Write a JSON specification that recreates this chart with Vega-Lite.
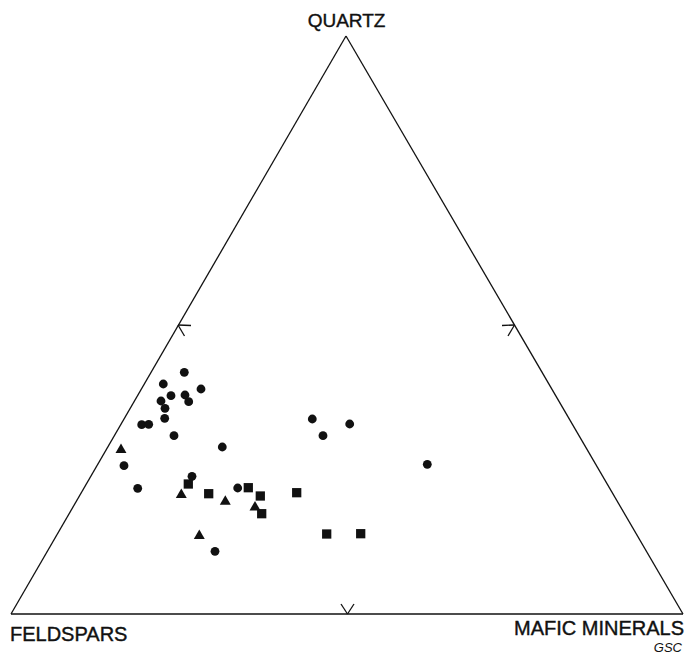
{
  "$schema": "https://vega.github.io/schema/vega-lite/v6.json",
  "width": 695,
  "height": 655,
  "padding": 0,
  "autosize": {"type": "fit", "contains": "padding"},
  "background": "white",
  "config": {"view": {"stroke": null}},
  "datasets": {
    "segments": [
      {"part": "edge", "x": 346, "y": 619, "x2": 11, "y2": 41},
      {"part": "edge", "x": 346, "y": 619, "x2": 683, "y2": 41},
      {"part": "edge", "x": 11, "y": 41, "x2": 683, "y2": 41},
      {"part": "tick", "x": 178, "y": 330, "x2": 191, "y2": 329.5},
      {"part": "tick", "x": 178, "y": 330, "x2": 184.5, "y2": 319},
      {"part": "tick", "x": 514.5, "y": 330, "x2": 502, "y2": 329.5},
      {"part": "tick", "x": 514.5, "y": 330, "x2": 508, "y2": 319},
      {"part": "tick", "x": 347.5, "y": 41, "x2": 341, "y2": 51},
      {"part": "tick", "x": 347.5, "y": 41, "x2": 354, "y2": 51}
    ],
    "samples": [
      {"type": "circle", "x": 184.3, "y": 282.7},
      {"type": "circle", "x": 163.3, "y": 271},
      {"type": "circle", "x": 201, "y": 266},
      {"type": "circle", "x": 171, "y": 259.3},
      {"type": "circle", "x": 185, "y": 260},
      {"type": "circle", "x": 161, "y": 254},
      {"type": "circle", "x": 188.7, "y": 253.3},
      {"type": "circle", "x": 165, "y": 246.7},
      {"type": "circle", "x": 164.7, "y": 236.7},
      {"type": "circle", "x": 141.7, "y": 230.3},
      {"type": "circle", "x": 148.7, "y": 230.7},
      {"type": "circle", "x": 174, "y": 219.3},
      {"type": "circle", "x": 222.3, "y": 208},
      {"type": "circle", "x": 124, "y": 189.3},
      {"type": "circle", "x": 192, "y": 178.7},
      {"type": "circle", "x": 137.7, "y": 166.7},
      {"type": "circle", "x": 237.7, "y": 167},
      {"type": "circle", "x": 215, "y": 103.7},
      {"type": "circle", "x": 312.3, "y": 236},
      {"type": "circle", "x": 349.7, "y": 231},
      {"type": "circle", "x": 323, "y": 219.3},
      {"type": "circle", "x": 427.3, "y": 190.7},
      {"type": "triangle", "x": 121, "y": 206.7},
      {"type": "triangle", "x": 181.3, "y": 161.7},
      {"type": "triangle", "x": 225.3, "y": 155},
      {"type": "triangle", "x": 255, "y": 149.3},
      {"type": "triangle", "x": 199.3, "y": 120.7},
      {"type": "square", "x": 188.3, "y": 171},
      {"type": "square", "x": 208.7, "y": 161.3},
      {"type": "square", "x": 248.3, "y": 167.3},
      {"type": "square", "x": 260.3, "y": 159},
      {"type": "square", "x": 261.7, "y": 141.3},
      {"type": "square", "x": 296.7, "y": 162.3},
      {"type": "square", "x": 326.7, "y": 121},
      {"type": "square", "x": 360.7, "y": 121.3}
    ]
  },
  "layer": [
    {
      "data": {"name": "segments"},
      "mark": {"type": "rule", "color": "#111111", "strokeWidth": 1.3},
      "encoding": {
        "x": {"field": "x", "type": "quantitative", "scale": {"domain": [0, 695], "nice": false, "zero": false}, "axis": null},
        "y": {"field": "y", "type": "quantitative", "scale": {"domain": [0, 655], "nice": false, "zero": false}, "axis": null},
        "x2": {"field": "x2"},
        "y2": {"field": "y2"}
      }
    },
    {
      "data": {"name": "samples"},
      "transform": [{"filter": "datum.type === 'circle'"}],
      "mark": {"type": "point", "shape": "circle", "filled": true, "opacity": 1, "color": "#111111", "size": 78},
      "encoding": {
        "x": {"field": "x", "type": "quantitative"},
        "y": {"field": "y", "type": "quantitative"}
      }
    },
    {
      "data": {"name": "samples"},
      "transform": [{"filter": "datum.type === 'triangle'"}],
      "mark": {"type": "point", "shape": "triangle-up", "filled": true, "opacity": 1, "color": "#111111", "size": 120},
      "encoding": {
        "x": {"field": "x", "type": "quantitative"},
        "y": {"field": "y", "type": "quantitative"}
      }
    },
    {
      "data": {"name": "samples"},
      "transform": [{"filter": "datum.type === 'square'"}],
      "mark": {"type": "point", "shape": "square", "filled": true, "opacity": 1, "color": "#111111", "size": 86},
      "encoding": {
        "x": {"field": "x", "type": "quantitative"},
        "y": {"field": "y", "type": "quantitative"}
      }
    },
    {
      "data": {"values": [{"label": "QUARTZ", "x": 346.5, "y": 628}]},
      "mark": {"type": "text", "align": "center", "baseline": "alphabetic", "font": "Liberation Sans", "fontSize": 19, "color": "#111111", "stroke": "#111111", "strokeWidth": 0.4},
      "encoding": {
        "x": {"field": "x", "type": "quantitative"},
        "y": {"field": "y", "type": "quantitative"},
        "text": {"field": "label"}
      }
    },
    {
      "data": {"values": [{"label": "FELDSPARS", "x": 10, "y": 14}]},
      "mark": {"type": "text", "align": "left", "baseline": "alphabetic", "font": "Liberation Sans", "fontSize": 20, "color": "#111111", "stroke": "#111111", "strokeWidth": 0.4},
      "encoding": {
        "x": {"field": "x", "type": "quantitative"},
        "y": {"field": "y", "type": "quantitative"},
        "text": {"field": "label"}
      }
    },
    {
      "data": {"values": [{"label": "MAFIC MINERALS", "x": 684, "y": 20}]},
      "mark": {"type": "text", "align": "right", "baseline": "alphabetic", "font": "Liberation Sans", "fontSize": 20, "color": "#111111", "stroke": "#111111", "strokeWidth": 0.4},
      "encoding": {
        "x": {"field": "x", "type": "quantitative"},
        "y": {"field": "y", "type": "quantitative"},
        "text": {"field": "label"}
      }
    },
    {
      "data": {"values": [{"label": "GSC", "x": 682, "y": 3}]},
      "mark": {"type": "text", "align": "right", "baseline": "alphabetic", "font": "Liberation Sans", "fontSize": 13, "fontStyle": "italic", "color": "#111111"},
      "encoding": {
        "x": {"field": "x", "type": "quantitative"},
        "y": {"field": "y", "type": "quantitative"},
        "text": {"field": "label"}
      }
    }
  ]
}
